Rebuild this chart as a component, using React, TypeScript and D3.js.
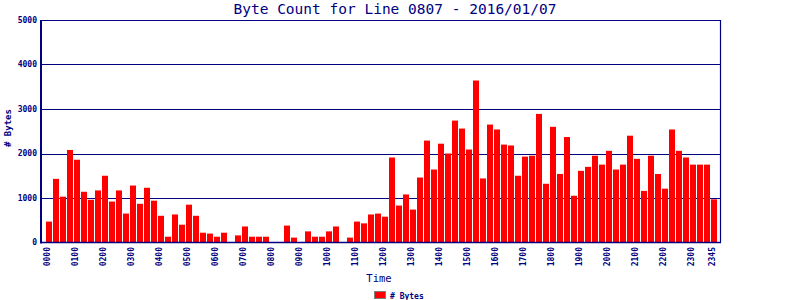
import * as d3 from "d3";

const hours = [
  "00", "01", "02", "03", "04", "05", "06", "07", "08", "09", "10", "11",
  "12", "13", "14", "15", "16", "17", "18", "19", "20", "21", "22", "23",
];
const quarters = ["00", "15", "30", "45"];

const byteCounts = [
  470, 1430, 1030, 2080, 1860, 1140, 960, 1170, 1500, 920, 1170, 650,
  1280, 870, 1230, 940, 600, 130, 630, 400, 850, 600, 220, 200,
  130, 220, 0, 160, 360, 130, 130, 130, 0, 0, 380, 110,
  0, 250, 130, 130, 250, 360, 0, 110, 470, 430, 630, 650,
  580, 1910, 830, 1080, 740, 1460, 2290, 1640, 2220, 2000, 2740, 2560,
  2090, 3640, 1440, 2650, 2540, 2200, 2180, 1500, 1930, 1950, 2890, 1320,
  2600, 1540, 2370, 1050, 1610, 1700, 1950, 1750, 2060, 1640, 1750, 2400,
  1880, 1160, 1950, 1540, 1210, 2540, 2060, 1910, 1750, 1750, 1750, 970,
];

const tickLabels = [
  "0000", "0100", "0200", "0300", "0400", "0500", "0600", "0700", "0800",
  "0900", "1000", "1100", "1200", "1300", "1400", "1500", "1600", "1700",
  "1800", "1900", "2000", "2100", "2200", "2300", "2345",
];
const yTicks = [0, 1000, 2000, 3000, 4000, 5000];

const slots = hours.flatMap((h) => quarters.map((q) => h + q));

const NAVY = "#000080";
const MONO = "'DejaVu Sans Mono', 'Liberation Mono', monospace";

const App = () => {
  const left = 41;
  const right = 720;
  const top = 20;
  const bottom = 242.5;

  const x = d3
    .scaleBand()
    .domain(slots)
    .range([46, 717])
    .paddingInner(1 / 7)
    .paddingOuter(0);
  const y = d3.scaleLinear().domain([0, 5000]).range([bottom, top]);

  return (
    <svg
      width={800}
      height={300}
      style={{ position: "absolute", left: 0, top: 0, background: "#fff" }}
    >
      {/* title */}
      <text
        x={395}
        y={14}
        textAnchor="middle"
        fontFamily={MONO}
        fontSize={14.5}
        fill={NAVY}
      >
        Byte Count for Line 0807 - 2016/01/07
      </text>

      {/* gridlines + y labels */}
      {yTicks.map((t) => (
        <g key={t}>
          {t > 0 && (
            <line
              x1={left}
              x2={right}
              y1={Math.round(y(t)) + 0.5}
              y2={Math.round(y(t)) + 0.5}
              stroke={NAVY}
              strokeWidth={1.2}
            />
          )}
          <text
            x={37}
            y={y(t)}
            textAnchor="end"
            dominantBaseline="middle"
            fontFamily={MONO}
            fontWeight="bold"
            fontSize={8}
            fill={NAVY}
          >
            {t}
          </text>
        </g>
      ))}

      {/* bars */}
      {byteCounts.map((v, i) => (
        <rect
          key={i}
          x={x(slots[i])}
          y={y(v)}
          width={x.bandwidth()}
          height={bottom - y(v)}
          fill="#ff0000"
        />
      ))}

      {/* axes frame */}
      <line x1={left} x2={left} y1={top} y2={bottom + 1} stroke={NAVY} strokeWidth={2} />
      <line x1={right + 0.5} x2={right + 0.5} y1={top} y2={bottom} stroke={NAVY} strokeWidth={1.2} />
      <line x1={left} x2={right + 1} y1={bottom} y2={bottom} stroke={NAVY} strokeWidth={1.5} />

      {/* x labels */}
      {tickLabels.map((lab) => (
        <text
          key={lab}
          transform={`translate(${(x(lab) ?? 0) + 1.5},247) rotate(-90)`}
          textAnchor="end"
          dominantBaseline="middle"
          fontFamily={MONO}
          fontWeight="bold"
          fontSize={8}
          fill={NAVY}
        >
          {lab}
        </text>
      ))}

      {/* axis titles */}
      <text
        transform="translate(8,128) rotate(-90)"
        textAnchor="middle"
        dominantBaseline="middle"
        fontFamily={MONO}
        fontWeight="bold"
        fontSize={9}
        fill={NAVY}
      >
        # Bytes
      </text>
      <text
        x={379}
        y={282}
        textAnchor="middle"
        fontFamily={MONO}
        fontSize={10.5}
        fill={NAVY}
      >
        Time
      </text>

      {/* legend */}
      <rect x={374.5} y={291.5} width={11} height={7} fill="#ff0000" stroke="#808080" strokeWidth={1} />
      <text
        x={390}
        y={296}
        dominantBaseline="middle"
        fontFamily={MONO}
        fontWeight="bold"
        fontSize={8}
        fill={NAVY}
      >
        # Bytes
      </text>
    </svg>
  );
};

export default App;
